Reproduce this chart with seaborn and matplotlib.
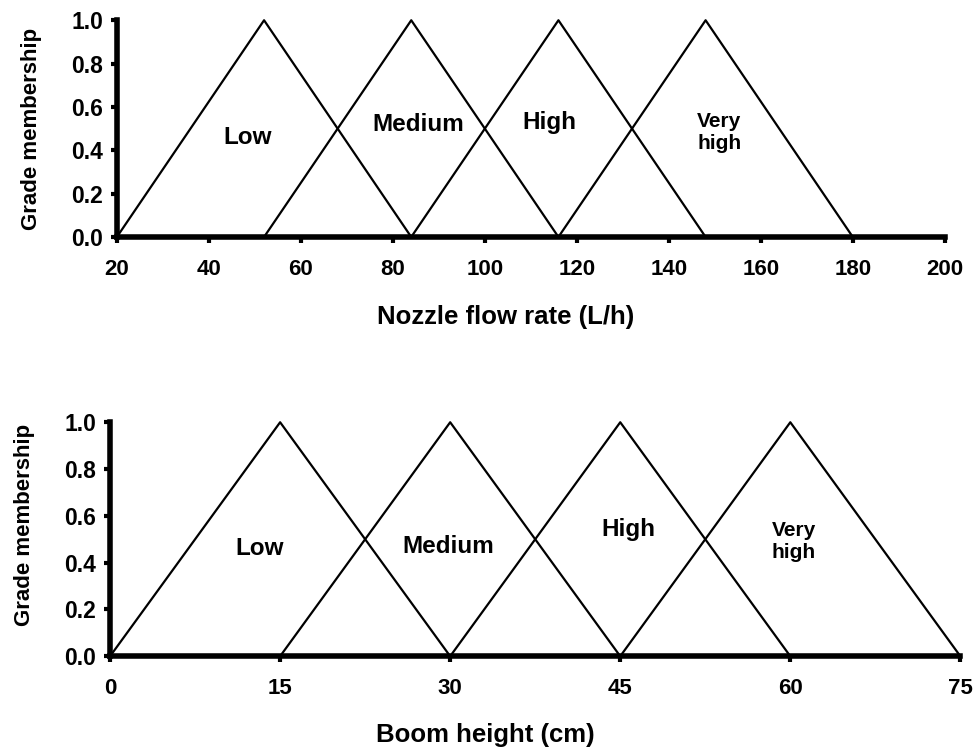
import pandas as pd
import numpy as np
import matplotlib
matplotlib.use("Agg")
import matplotlib.pyplot as plt
import seaborn as sns

# membership sets: (start, peak, end) of each triangle
sets = ["Low", "Medium", "High", "Very high"]
flow_points = [(20, 52, 84), (52, 84, 116), (84, 116, 148), (116, 148, 180)]
height_points = [(0, 15, 30), (15, 30, 45), (30, 45, 60), (45, 60, 75)]
grade = [0.0, 1.0, 0.0]

flow_ticks = [20, 40, 60, 80, 100, 120, 140, 160, 180, 200]
height_ticks = [0, 15, 30, 45, 60, 75]
grade_ticks = [0.0, 0.2, 0.4, 0.6, 0.8, 1.0]

# label positions (data coords)
flow_labels = [(48.5, 0.46), (85.5, 0.52), (114, 0.53), (151, 0.48)]
height_labels = [(13.2, 0.46), (29.8, 0.47), (45.7, 0.54), (60.3, 0.49)]


def to_long(points):
    rows = []
    for name, pts in zip(sets, points):
        for x, y in zip(pts, grade):
            rows.append({"set": name, "x": x, "y": y})
    return pd.DataFrame(rows)


sns.set_style("white")
plt.rcParams['font.family'] = ['Liberation Sans', 'DejaVu Sans']
plt.rcParams['font.weight'] = 'bold'
plt.rcParams['text.color'] = 'black'
plt.rcParams['axes.labelcolor'] = 'black'
plt.rcParams['xtick.color'] = 'black'
plt.rcParams['ytick.color'] = 'black'

fig = plt.figure(figsize=(9.74, 7.5), dpi=100)
ax1 = fig.add_axes([0.120, 0.684, 0.850, 0.289])
ax2 = fig.add_axes([0.113, 0.125, 0.873, 0.312])


def draw(ax, points, labels, ticks, xlabel, xlab_pad, xlab_x, ylab_pad, ylab_y):
    df = to_long(points)
    sns.lineplot(data=df, x="x", y="y", hue="set", palette=["black"] * 4,
                 sort=False, estimator=None, legend=False, linewidth=1.6, ax=ax)
    for name, (lx, ly) in zip(sets, labels):
        if name == "Very high":
            ax.text(lx, ly, "Very\nhigh", ha="center", va="center",
                    fontsize=15, fontweight="bold", linespacing=1.2)
        else:
            ax.text(lx, ly, name, ha="center", va="center",
                    fontsize=17.5, fontweight="bold")
    ax.set_xlim(ticks[0], ticks[-1])
    ax.set_ylim(0, 1.0)
    ax.set_xticks(ticks)
    ax.set_yticks(grade_ticks)
    ax.set_yticklabels([f"{t:.1f}" for t in grade_ticks])
    ax.tick_params(axis="both", direction="out", length=4, width=3,
                   labelsize=16, color="black", bottom=True, left=True)
    ax.tick_params(axis="x", pad=12)
    ax.tick_params(axis="y", pad=6, labelsize=16.5)
    for lab in ax.get_xticklabels() + ax.get_yticklabels():
        lab.set_fontweight("bold")
    ax.set_xlabel(xlabel, fontsize=18.5, fontweight="bold", labelpad=xlab_pad)
    ax.xaxis.label.set_x(xlab_x)
    ax.set_ylabel("Grade membership", fontsize=16, fontweight="bold", labelpad=ylab_pad)
    ax.yaxis.label.set_y(ylab_y)
    sns.despine(ax=ax)
    for side in ["left", "bottom"]:
        ax.spines[side].set_linewidth(4)
        ax.spines[side].set_color("black")
    for line in ax.get_lines():
        line.set_clip_on(False)


draw(ax1, flow_points, flow_labels, flow_ticks, "Nozzle flow rate (L/h)",
     18, 0.47, 21, 0.5)
draw(ax2, height_points, height_labels, height_ticks, "Boom height (cm)",
     17, 0.441, 21, 0.56)

fig.savefig("out.png", dpi=100, facecolor="white")
